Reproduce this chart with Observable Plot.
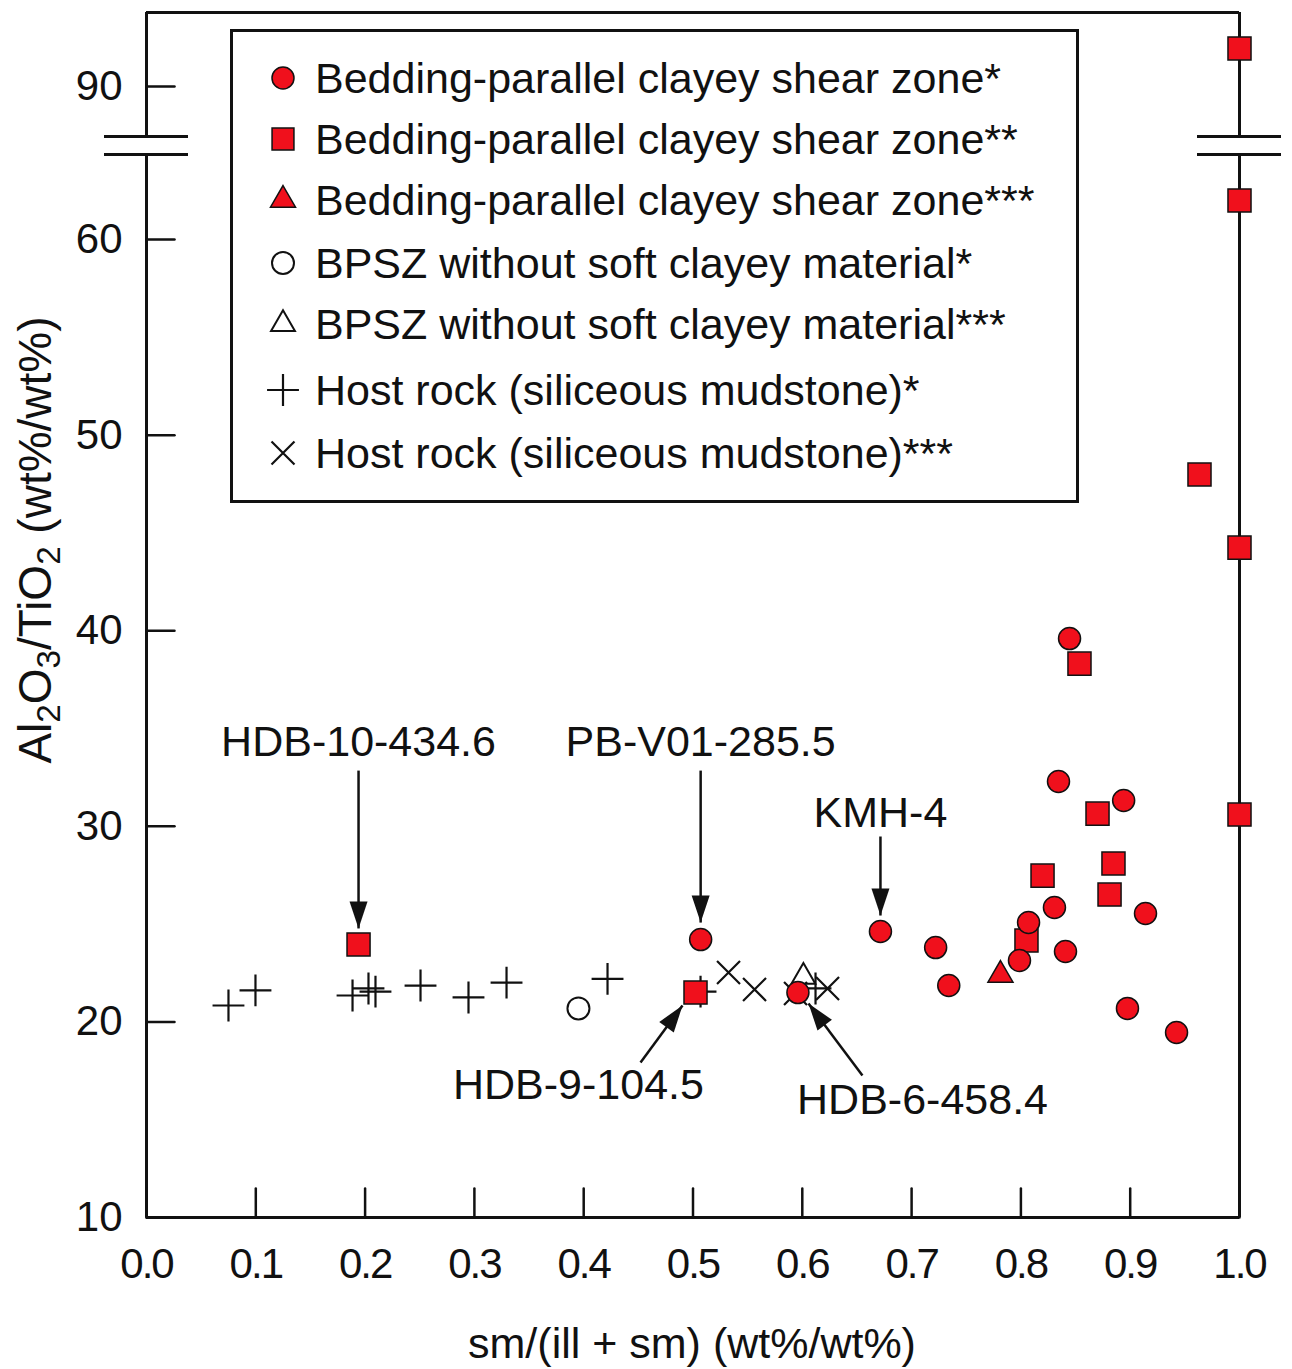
<!DOCTYPE html>
<html>
<head>
<meta charset="utf-8">
<script src="https://cdn.jsdelivr.net/npm/d3@7"></script>
<script src="https://cdn.jsdelivr.net/npm/@observablehq/plot@0.6"></script>
<style>
  body { margin: 0; background: #fff; }
  #wrap { position: relative; width: 1292px; height: 1369px; font-family: "Liberation Sans", Arial, Helvetica, sans-serif; color: #111; overflow: hidden; }
  #wrap svg.plot { position: absolute; left: 0; top: 0; }
  #legend { position: absolute; left: 230px; top: 29px; width: 849px; height: 474px; box-sizing: border-box; border: 3px solid #111; background: #fff; }
  .lrow { position: absolute; left: 0; height: 43px; line-height: 43px; font-size: 43px; white-space: nowrap; }
  .lrow svg { position: absolute; left: 30px; top: 1px; }
  .lrow span { position: absolute; left: 82px; top: 0; }
  #ylab { position: absolute; left: 0; top: 0; font-size: 46px; line-height: 46px; white-space: nowrap; }
  #ylab sub { font-size: 0.72em; vertical-align: -0.3em; line-height: 0; }
  #xlab { position: absolute; top: 1322px; left: 692px; transform: translateX(-50%); font-size: 43px; line-height: 43px; white-space: nowrap; }
  [aria-label="x-axis tick label"] text { letter-spacing: -2px; }
</style>
</head>
<body>
<div id="wrap"></div>
<script>
// ---------------- data ----------------
const seriesNames = [
  "Bedding-parallel clayey shear zone*",
  "Bedding-parallel clayey shear zone**",
  "Bedding-parallel clayey shear zone***",
  "BPSZ without soft clayey material*",
  "BPSZ without soft clayey material***",
  "Host rock (siliceous mudstone)*",
  "Host rock (siliceous mudstone)***"
];
// [sm/(ill+sm), Al2O3/TiO2]
const bpczStar1 = [[0.507,24.21],[0.596,21.50],[0.6715,24.62],[0.722,23.80],[0.734,21.86],[0.7987,23.14],[0.807,25.08],[0.8307,25.85],[0.8344,32.29],[0.8445,39.60],[0.8408,23.60],[0.894,31.32],[0.8975,20.69],[0.914,25.54],[0.9424,19.46]];
const bpczStar2 = [[0.194,23.96],[0.5023,21.50],[0.8051,24.16],[0.8198,27.48],[0.8536,38.32],[0.8701,30.65],[0.8847,28.10],[0.8811,26.51],[0.9634,47.99],[1.0,30.60],[1.0,44.25],[1.0,62.0],[1.0,91.94]];
const bpczStar3 = [[0.7813,22.40]];
const bpszStar1 = [[0.3952,20.69]];
const bpszStar3 = [[0.601,22.31]];
const hostStar1 = [[0.075,20.84],[0.0997,21.61],[0.1885,21.35],[0.2031,21.71],[0.2095,21.55],[0.2507,21.86],[0.2946,21.25],[0.3294,22.01],[0.4218,22.20],[0.5069,21.55],[0.6121,21.71]];
const hostStar3 = [[0.5325,22.53],[0.5563,21.66],[0.5938,21.45],[0.6231,21.71]];

const xTicks = [0, 0.1, 0.2, 0.3, 0.4, 0.5, 0.6, 0.7, 0.8, 0.9, 1.0];
const yTicks = [10, 20, 30, 40, 50, 60, 90];

// annotations
const annotLabels = ["HDB-10-434.6", "PB-V01-285.5", "KMH-4", "HDB-9-104.5", "HDB-6-458.4"];
const annotTextX = [0.194, 0.507, 0.6715, 0.3952, 0.71];
const annotTextY = [34.28, 34.28, 30.65, 16.75, 15.98];
const arrowFromX = [0.194, 0.507, 0.6715, 0.452, 0.655];
const arrowFromY = [32.85, 32.85, 29.48, 17.92, 17.26];
const arrowToX = [0.194, 0.507, 0.6715, 0.4904, 0.6057];
const arrowToY = [24.78, 25.08, 25.44, 20.84, 20.94];

// broken y axis: lower part 10..64.35, upper part 87.44..93.78
const yBreakLow = 64.35, yBreakHigh = 87.44, yMin = 10, yMax = 93.78;

// ---------------- scales ----------------
const W = 1292, H = 1369;
const mL = 146, mR = 53, mT = 12, mB = 152;
const yDomain = [yMin, yBreakLow, yBreakHigh, yMax];
const yRange = [H - mB, 154, 136, mT];
const xs = d3.scaleLinear([0, 1], [mL, W - mR]);
const ys = d3.scaleLinear(yDomain, yRange);

const RED = "#f0101c";
const INK = "#111";
const toObj = arr => arr.map(([x, y]) => ({x, y}));

const annots = annotLabels.map((label, i) => {
  const dx = xs(arrowToX[i]) - xs(arrowFromX[i]);
  const dy = ys(arrowToY[i]) - ys(arrowFromY[i]);
  return {label, tx: annotTextX[i], ty: annotTextY[i], x1: arrowFromX[i], y1: arrowFromY[i], x2: arrowToX[i], y2: arrowToY[i],
          angle: Math.atan2(dx, -dy) * 180 / Math.PI};
});

// frame segments (axis lines with a gap at the break)
const frameSegs = [
  {x: 0, y1: yMin, y2: yBreakLow}, {x: 0, y1: yBreakHigh, y2: yMax},
  {x: 1, y1: yMin, y2: yBreakLow}, {x: 1, y1: yBreakHigh, y2: yMax}
];
const breakHalf = 42 / (W - mL - mR);
const breakSegs = [0, 1].flatMap(a => [yBreakLow, yBreakHigh].map(y => ({y, x1: a - breakHalf, x2: a + breakHalf})));

const tickShape = {draw(ctx, l) { ctx.moveTo(0, 0); ctx.lineTo(0, -l); }};
const headSymbol = {draw(ctx) { ctx.moveTo(0, 0); ctx.lineTo(-9, 27); ctx.lineTo(9, 27); ctx.closePath(); }};

const R = {circle: 11, square: 13, triangle: 9.3, ocircle: 11, otriangle: 11.4, plus: 10.3, times: 10.5};

const plot = Plot.plot({
  width: W, height: H,
  marginLeft: mL, marginRight: mR, marginTop: mT, marginBottom: mB,
  style: {fontFamily: '"Liberation Sans", Arial, Helvetica, sans-serif', fontSize: "41px", color: INK, background: "transparent"},
  x: {domain: [0, 1]},
  y: {type: "linear", domain: yDomain, range: yRange},
  marks: [
    // frame
    Plot.ruleY([yMin, yMax], {stroke: INK, strokeWidth: 3}),
    Plot.ruleX(frameSegs, {x: "x", y1: "y1", y2: "y2", stroke: INK, strokeWidth: 3}),
    Plot.ruleY(breakSegs, {y: "y", x1: "x1", x2: "x2", stroke: INK, strokeWidth: 3}),
    // inward ticks
    Plot.vector(xTicks, {x: d => d, y: yMin, length: 29, rotate: 0, anchor: "start", shape: tickShape, stroke: INK, strokeWidth: 2.5}),
    Plot.vector(yTicks, {x: 0, y: d => d, length: 28, rotate: 90, anchor: "start", shape: tickShape, stroke: INK, strokeWidth: 2.5}),
    // tick labels
    Plot.axisX({ticks: xTicks, tickSize: 0, tickPadding: 31, tickFormat: d3.format(".1f"), fontSize: 42, label: null}),
    Plot.axisY({ticks: yTicks, tickSize: 0, tickPadding: 24, fontSize: 42, label: null}),
    // black symbols
    Plot.dot(toObj(hostStar1), {x: "x", y: "y", symbol: "plus", r: R.plus, stroke: INK, strokeWidth: 2.2}),
    Plot.dot(toObj(hostStar3), {x: "x", y: "y", symbol: "times", r: R.times, stroke: INK, strokeWidth: 2.2}),
    Plot.dot(toObj(bpszStar1), {x: "x", y: "y", symbol: "circle", r: R.ocircle, fill: "none", stroke: INK, strokeWidth: 2}),
    Plot.dot(toObj(bpszStar3), {x: "x", y: "y", symbol: "triangle2", r: R.otriangle, fill: "none", stroke: INK, strokeWidth: 2}),
    // red symbols
    Plot.dot(toObj(bpczStar3), {x: "x", y: "y", symbol: "triangle", r: R.triangle, fill: RED, stroke: INK, strokeWidth: 1.5}),
    Plot.dot(toObj(bpczStar2), {x: "x", y: "y", symbol: "square", r: R.square, fill: RED, stroke: INK, strokeWidth: 1.5}),
    Plot.dot(toObj(bpczStar1), {x: "x", y: "y", symbol: "circle", r: R.circle, fill: RED, stroke: INK, strokeWidth: 1.5}),
    // annotations
    Plot.link(annots, {x1: "x1", y1: "y1", x2: "x2", y2: "y2", stroke: INK, strokeWidth: 2.5}),
    Plot.dot(annots, {x: "x2", y: "y2", symbol: headSymbol, rotate: "angle", r: 5, fill: INK, stroke: "none"}),
    Plot.text(annots, {x: "tx", y: "ty", text: "label", fontSize: 43, fill: INK, lineAnchor: "middle"})
  ]
});
plot.classList.add("plot");

const wrap = document.getElementById("wrap");
wrap.appendChild(plot);

// legend (HTML overlay)
const legendSpec = [
  {type: d3.symbolCircle, r: R.circle, fill: RED, stroke: INK, sw: 1.5, cy: 78},
  {type: d3.symbolSquare, r: R.square * 0.95, fill: RED, stroke: INK, sw: 1.5, cy: 139},
  {type: d3.symbolTriangle, r: R.triangle, fill: RED, stroke: INK, sw: 1.5, cy: 200},
  {type: d3.symbolCircle, r: R.ocircle, fill: "none", stroke: INK, sw: 2, cy: 263},
  {type: d3.symbolTriangle2, r: R.otriangle, fill: "none", stroke: INK, sw: 2, cy: 324},
  {type: d3.symbolPlus, r: R.plus, fill: "none", stroke: INK, sw: 2.2, cy: 390},
  {type: d3.symbolTimes, r: R.times, fill: "none", stroke: INK, sw: 2.2, cy: 453}
];
const legend = d3.select(wrap).append("div").attr("id", "legend");
legendSpec.forEach((s, i) => {
  const row = legend.append("div").attr("class", "lrow").style("top", (s.cy - 29 - 3 - 21) + "px");
  const svg = row.append("svg").attr("width", 40).attr("height", 40);
  svg.append("path")
    .attr("transform", "translate(20,20)")
    .attr("d", d3.symbol().type(s.type).size(Math.PI * s.r * s.r)())
    .attr("fill", s.fill).attr("stroke", s.stroke).attr("stroke-width", s.sw);
  row.append("span").text(seriesNames[i]);
});

// axis titles
const ylab = d3.select(wrap).append("div").attr("id", "ylab")
  .html("Al<sub>2</sub>O<sub>3</sub>/TiO<sub>2</sub> (wt%/wt%)");
const yn = ylab.node();
const bw = yn.offsetWidth, bh = yn.offsetHeight;
ylab.style("left", (34 - bw / 2) + "px").style("top", (540 - bh / 2) + "px").style("transform", "rotate(-90deg)");

d3.select(wrap).append("div").attr("id", "xlab").text("sm/(ill + sm) (wt%/wt%)");
</script>
</body>
</html>
